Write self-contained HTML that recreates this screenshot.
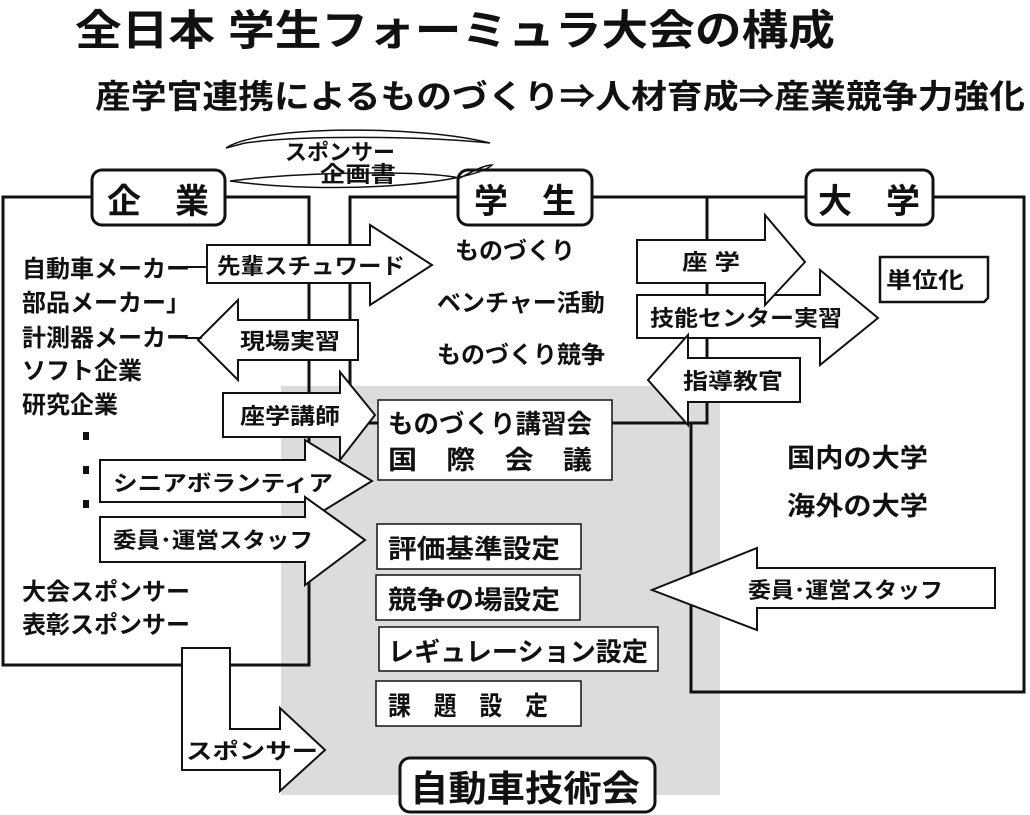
<!DOCTYPE html>
<html><head><meta charset="utf-8"><style>
html,body{margin:0;padding:0;background:#fff;}
svg{display:block;}
text{font-family:"Liberation Sans","Noto Sans CJK JP",sans-serif;font-weight:bold;fill:#111;}
</style></head><body>
<svg width="1030" height="815" viewBox="0 0 1030 815" xmlns="http://www.w3.org/2000/svg">
<g stroke="#111" stroke-width="2" fill="none">
<rect x="281" y="386" width="439" height="409" fill="#dcdcdc" stroke="none"/>
<polyline points="93,197 3,197 3,665 309,665 309,197 225,197" stroke-width="3"/>
<polyline points="458,197 350,197 350,423 707,423 707,197 592,197" stroke-width="3"/>
<polyline points="806,197 707,197" stroke-width="3"/>
<polyline points="933,197 1024,197 1024,692 691,692 691,423" stroke-width="3"/>
<rect x="92" y="170" width="133" height="55" rx="10" fill="#fff" stroke-width="3"/>
<rect x="458" y="170" width="134" height="55" rx="10" fill="#fff" stroke-width="3"/>
<rect x="806" y="170" width="127" height="55" rx="10" fill="#fff" stroke-width="3"/>
<path d="M226,148 C260,125 420,125 490,143 C420,136 300,135 245,143 Z" stroke-width="1.5"/>
<path d="M230,181 C300,172 420,170 460,178 C475,170 485,165 492,165 C470,185 330,195 230,181 Z" stroke-width="1.5"/>
<polygon points="207,245 370,245 370,225 432,265 370,305 370,283 207,283" fill="#fff"/>
<polygon points="358,320 238,320 238,300 198,340 238,380 238,360 358,360" fill="#fff"/>
<polygon points="223,393 340,393 340,372 375,415 340,460 340,437 223,437" fill="#fff"/>
<polygon points="100,460 305,460 305,440 372,481 305,522 305,502 100,502" fill="#fff"/>
<polygon points="100,517 305,517 305,497 365,540 305,585 305,562 100,562" fill="#fff"/>
<polygon points="182,648 230,648 230,729 280,729 280,708 325,750 280,791 280,770 182,770" fill="#fff"/>
<polygon points="637,295 820,295 820,270 878,318 820,365 820,338 637,338" fill="#fff"/>
<polygon points="637,240 765,240 765,215 805,262 765,305 765,283 637,283" fill="#fff"/>
<polygon points="800,358 688,358 688,335 648,380 688,425 688,402 800,402" fill="#fff"/>
<polygon points="995,568 757,568 757,548 652,590 757,630 757,608 995,608" fill="#fff"/>
<polygon points="880,257 988,257 988,298 984,302 880,302" fill="#fff" stroke-width="2.5"/>
<line x1="185" y1="267" x2="207" y2="267"/>
<line x1="185" y1="338" x2="202" y2="338"/>
<rect x="378" y="400" width="234" height="80" fill="#fff" stroke-width="1.5"/>
<rect x="377" y="524" width="204" height="45" fill="#fff" stroke-width="1.5"/>
<rect x="376" y="575" width="204" height="45" fill="#fff" stroke-width="1.5"/>
<rect x="379" y="627" width="279" height="44" fill="#fff" stroke-width="1.5"/>
<rect x="376" y="681" width="205" height="45" fill="#fff" stroke-width="1.5"/>
<rect x="400" y="758" width="255" height="54" rx="10" fill="#fff" stroke-width="3"/>
</g>
<rect x="83" y="432" width="6" height="8" fill="#111"/>
<rect x="83" y="466" width="6" height="8" fill="#111"/>
<rect x="83" y="500" width="6" height="8" fill="#111"/>
<text x="75" y="45" font-size="42" textLength="760" lengthAdjust="spacingAndGlyphs">全日本 学生フォーミュラ大会の構成</text>
<text x="95" y="108" font-size="33" textLength="930" lengthAdjust="spacingAndGlyphs">産学官連携によるものづくり⇒人材育成⇒産業競争力強化</text>
<text x="285" y="160" font-size="22" textLength="110" lengthAdjust="spacingAndGlyphs">スポンサー</text>
<text x="320" y="182" font-size="22" textLength="76" lengthAdjust="spacingAndGlyphs">企画書</text>
<text x="158" y="213" font-size="34" text-anchor="middle">企　業</text>
<text x="525" y="213" font-size="34" text-anchor="middle">学　生</text>
<text x="869" y="213" font-size="34" text-anchor="middle">大　学</text>
<g font-size="24">
<text x="22" y="277">自動車メーカー</text>
<text x="22" y="311">部品メーカー」</text>
<text x="22" y="346">計測器メーカー</text>
<text x="22" y="379">ソフト企業</text>
<text x="22" y="413">研究企業</text>
<text x="22" y="600">大会スポンサー</text>
<text x="22" y="633">表彰スポンサー</text>
<text x="455" y="259">ものづくり</text>
<text x="437" y="311">ベンチャー活動</text>
<text x="437" y="363">ものづくり競争</text>
</g>
<g font-size="26">
<text x="787" y="467" textLength="141" lengthAdjust="spacingAndGlyphs">国内の大学</text>
<text x="787" y="515" textLength="141" lengthAdjust="spacingAndGlyphs">海外の大学</text>
<text x="388" y="433" textLength="204" lengthAdjust="spacingAndGlyphs">ものづくり講習会</text>
<text x="388" y="469" textLength="204" lengthAdjust="spacingAndGlyphs">国　際　会　議</text>
<text x="388" y="558" textLength="172" lengthAdjust="spacingAndGlyphs">評価基準設定</text>
<text x="388" y="609" textLength="172" lengthAdjust="spacingAndGlyphs">競争の場設定</text>
<text x="388" y="661" textLength="260" lengthAdjust="spacingAndGlyphs">レギュレーション設定</text>
<text x="388" y="715" textLength="160" lengthAdjust="spacingAndGlyphs">課　題　設　定</text>
</g>
<g font-size="22">
<text x="217" y="274" textLength="188" lengthAdjust="spacingAndGlyphs">先輩スチュワード</text>
<text x="240" y="349" textLength="100" lengthAdjust="spacingAndGlyphs">現場実習</text>
<text x="240" y="424" textLength="100" lengthAdjust="spacingAndGlyphs">座学講師</text>
<text x="113" y="491" textLength="220" lengthAdjust="spacingAndGlyphs">シニアボランティア</text>
<text x="113" y="548" textLength="200" lengthAdjust="spacingAndGlyphs">委員･運営スタッフ</text>
<text x="186" y="759" textLength="132" lengthAdjust="spacingAndGlyphs">スポンサー</text>
<text x="682" y="270" textLength="58" lengthAdjust="spacingAndGlyphs">座 学</text>
<text x="650" y="326" textLength="192" lengthAdjust="spacingAndGlyphs">技能センター実習</text>
<text x="683" y="389" textLength="100" lengthAdjust="spacingAndGlyphs">指導教官</text>
<text x="886" y="288" textLength="78" lengthAdjust="spacingAndGlyphs">単位化</text>
<text x="748" y="598" textLength="195" lengthAdjust="spacingAndGlyphs">委員･運営スタッフ</text>
</g>
<text x="410" y="801" font-size="36" textLength="230" lengthAdjust="spacingAndGlyphs">自動車技術会</text>
</svg>
</body></html>
